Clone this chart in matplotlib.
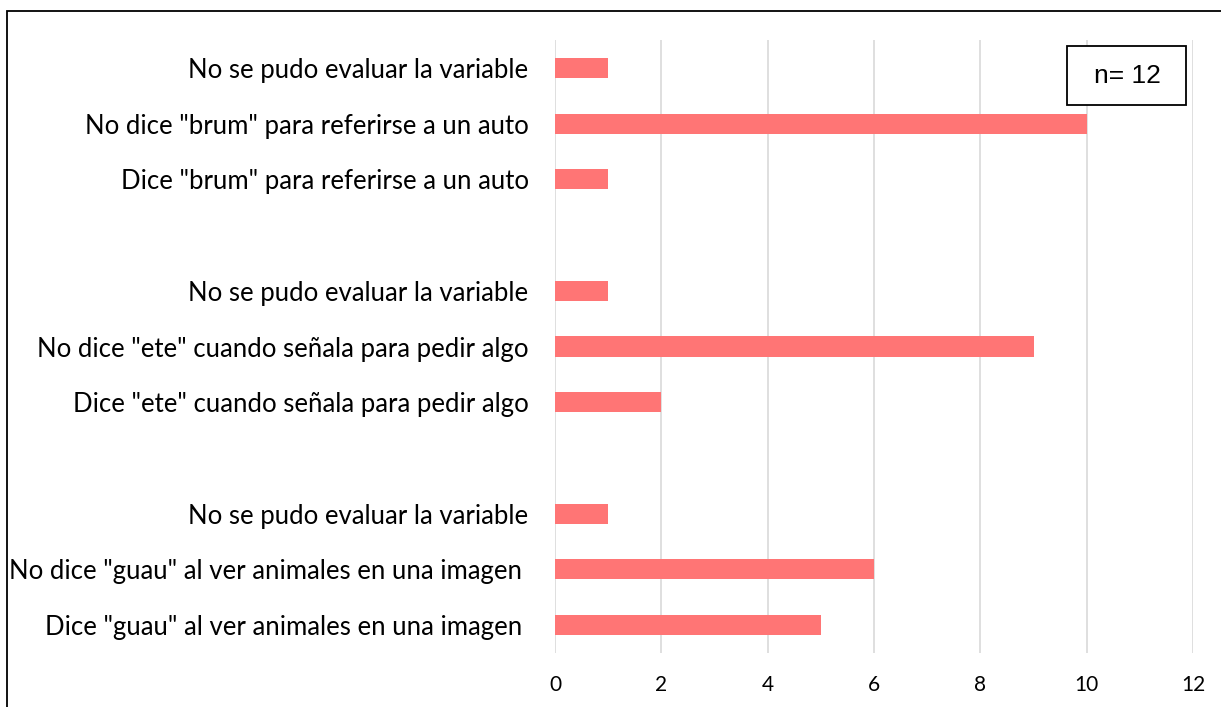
import matplotlib
matplotlib.use("Agg")
import matplotlib.pyplot as plt
import numpy as np
from matplotlib.patches import Rectangle

# categories, top to bottom; empty string = spacer row between groups
labels = [
    "No se pudo evaluar la variable",
    "No dice \"brum\" para referirse a un auto",
    "Dice \"brum\" para referirse a un auto",
    "",
    "No se pudo evaluar la variable",
    "No dice \"ete\" cuando señala para pedir algo",
    "Dice \"ete\" cuando señala para pedir algo",
    "",
    "No se pudo evaluar la variable",
    "No dice \"guau\" al ver animales en una imagen ",
    "Dice \"guau\" al ver animales en una imagen ",
]
values = [1, 10, 1, 0, 1, 9, 2, 0, 1, 6, 5]
xticks = [0, 2, 4, 6, 8, 10, 12]

bar_color = "#FF7575"
grid_color = "#D9D9D9"
font = ["Lato", "DejaVu Sans"]
W, H = 1221, 707

fig = plt.figure(figsize=(W / 100, H / 100), dpi=100)
ax = fig.add_axes([555 / W, 1 - 653 / H, (1193 - 555) / W, (653 - 40) / H])

ypos = np.arange(len(labels))
ax.barh(ypos, values, height=0.36, color=bar_color, zorder=3)

ax.set_ylim(len(labels) - 0.5, -0.5)
ax.set_xlim(0, 12)
ax.tick_params(axis="y", length=0, pad=19)
ax.tick_params(axis="x", length=0, pad=16)
ax.set_xticks(xticks)
ax.set_xticklabels([str(v) for v in xticks], fontsize=15, family=font)
ax.set_yticks(ypos)
ax.set_yticklabels(labels, fontsize=18.5, family=font)

ax.grid(axis="x", color=grid_color, linewidth=1.2, zorder=0)
for s in ax.spines.values():
    s.set_visible(False)

# n= box
fig.patches.append(Rectangle((1067 / W, 1 - 105 / H), 119 / W, 59 / H,
                             transform=fig.transFigure, facecolor="white",
                             edgecolor="black", linewidth=1.3, zorder=5))
fig.text(1127 / W, 1 - 76 / H, "n= 12", ha="center", va="center",
         fontsize=19, family="Liberation Sans", zorder=6)

# outer frame of the chart (right/bottom edges fall outside the image)
fig.patches.append(Rectangle((7 / W, -0.05), 1.1, 1 - 11 / H + 0.05,
                             transform=fig.transFigure, fill=False,
                             edgecolor="black", linewidth=1.3))

fig.savefig("out.png", dpi=100)
